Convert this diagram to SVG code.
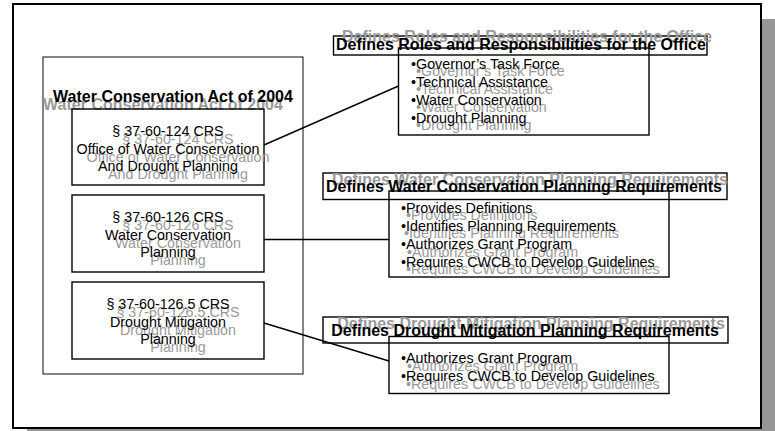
<svg xmlns="http://www.w3.org/2000/svg" width="775" height="431" viewBox="0 0 775 431">
<style>
  .t { font-family: "Liberation Sans", Arial, sans-serif; font-size: 14.3px; fill: #000; }
  .b { font-family: "Liberation Sans", Arial, sans-serif; font-size: 16px; font-weight: bold; fill: #000; }
  .g { fill: #9a9a9a; }
  .c { text-anchor: middle; }
  .box { fill: none; stroke: #000; stroke-width: 1.4; }
  .conn { fill: none; stroke: #000; stroke-width: 1.4; }
</style>
<rect x="0" y="0" width="775" height="431" fill="#fff"/>
<g id="frame">
  <rect x="27" y="19" width="760" height="430" fill="#969696"/>
  <rect x="13" y="4" width="748" height="424" fill="#fff" stroke="#000" stroke-width="2"/>
</g>
<g id="act">
  <rect x="43" y="57" width="260" height="317" fill="none" stroke="#222" stroke-width="1.1"/>
  <text class="b g c" x="163" y="110">Water Conservation Act of 2004</text>
  <text class="b c" x="173" y="101.5">Water Conservation Act of 2004</text>
</g>
<g id="crs124">
  <rect class="box" x="72" y="109" width="192" height="76"/>
  <g class="t g c">
    <text x="178" y="144">§ 37-60-124 CRS</text>
    <text x="178" y="161.5">Office of Water Conservation</text>
    <text x="178" y="179">And Drought Planning</text>
  </g>
  <g class="t c">
    <text x="168" y="136">§ 37-60-124 CRS</text>
    <text x="168" y="153.5">Office of Water Conservation</text>
    <text x="168" y="171">And Drought Planning</text>
  </g>
</g>
<g id="crs126">
  <rect class="box" x="72" y="195" width="192" height="77"/>
  <g class="t g c">
    <text x="178" y="230">§ 37-60-126 CRS</text>
    <text x="178" y="247.5">Water Conservation</text>
    <text x="178" y="265">Planning</text>
  </g>
  <g class="t c">
    <text x="168" y="222">§ 37-60-126 CRS</text>
    <text x="168" y="239.5">Water Conservation</text>
    <text x="168" y="257">Planning</text>
  </g>
</g>
<g id="crs1265">
  <rect class="box" x="72" y="282" width="192" height="77"/>
  <g class="t g c">
    <text x="178" y="317">§ 37-60-126.5 CRS</text>
    <text x="178" y="334.5">Drought Mitigation</text>
    <text x="178" y="352">Planning</text>
  </g>
  <g class="t c">
    <text x="168" y="309">§ 37-60-126.5 CRS</text>
    <text x="168" y="326.5">Drought Mitigation</text>
    <text x="168" y="344">Planning</text>
  </g>
</g>
<g id="roles">
  <rect class="box" x="333.5" y="36" width="373.5" height="19"/>
  <rect class="box" x="398.5" y="48" width="250.5" height="87"/>
  <text class="b g c" x="527" y="42">Defines Roles and Responsibilities for the Office</text>
  <text class="b c" x="521" y="50">Defines Roles and Responsibilities for the Office</text>
  <g class="t g">
    <text x="416" y="76">•Governor’s Task Force</text>
    <text x="416" y="94">•Technical Assistance</text>
    <text x="416" y="112">•Water Conservation</text>
    <text x="416" y="130">•Drought Planning</text>
  </g>
  <g class="t">
    <text x="411" y="69">•Governor’s Task Force</text>
    <text x="411" y="87">•Technical Assistance</text>
    <text x="411" y="105">•Water Conservation</text>
    <text x="411" y="123">•Drought Planning</text>
  </g>
</g>
<g id="wcplan">
  <rect class="box" x="323" y="173" width="404" height="26.5"/>
  <rect class="box" x="389" y="191" width="280" height="86"/>
  <text class="b g c" x="530" y="185">Defines Water Conservation Planning Requirements</text>
  <text class="b c" x="524" y="192">Defines Water Conservation Planning Requirements</text>
  <g class="t g">
    <text x="406" y="220">•Provides Definitions</text>
    <text x="404" y="238">•Identifies Planning Requirements</text>
    <text x="407" y="257">•Authorizes Grant Program</text>
    <text x="406" y="273.5">•Requires CWCB to Develop Guidelines</text>
  </g>
  <g class="t">
    <text x="401" y="213">•Provides Definitions</text>
    <text x="401" y="231">•Identifies Planning Requirements</text>
    <text x="401" y="249">•Authorizes Grant Program</text>
    <text x="401" y="266.5">•Requires CWCB to Develop Guidelines</text>
  </g>
</g>
<g id="dmplan">
  <rect class="box" x="323" y="317" width="405" height="26"/>
  <rect class="box" x="389" y="336.5" width="280" height="57"/>
  <text class="b g c" x="531" y="329">Defines Drought Mitigation Planning Requirements</text>
  <text class="b c" x="525" y="336">Defines Drought Mitigation Planning Requirements</text>
  <g class="t g">
    <text x="407" y="371">•Authorizes Grant Program</text>
    <text x="406" y="389">•Requires CWCB to Develop Guidelines</text>
  </g>
  <g class="t">
    <text x="401" y="363">•Authorizes Grant Program</text>
    <text x="401" y="381">•Requires CWCB to Develop Guidelines</text>
  </g>
</g>
<g id="connectors">
  <line class="conn" x1="264" y1="145" x2="398.5" y2="86"/>
  <line class="conn" x1="264" y1="239.5" x2="389" y2="239.5"/>
  <line class="conn" x1="264" y1="323" x2="389" y2="361"/>
</g>
</svg>
